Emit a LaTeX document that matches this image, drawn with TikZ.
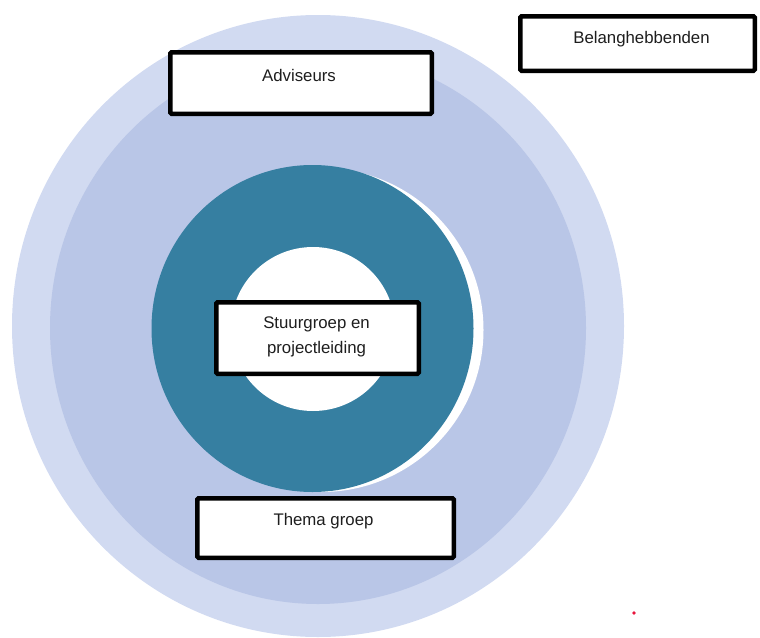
\documentclass[tikz,border=0pt]{standalone}
\usepackage{fontspec}
\setmainfont{Liberation Sans}
\definecolor{outerc}{RGB}{209,218,241}
\definecolor{midc}{RGB}{185,198,231}
\definecolor{darkc}{RGB}{54,127,161}
\definecolor{txtc}{RGB}{30,30,30}
\definecolor{dotc}{RGB}{232,20,60}
\begin{document}
\begin{tikzpicture}[x=1pt,y=-1pt,
  boxst/.style={draw=black,fill=white,line width=4.5pt,rounded corners=1.2pt,inner sep=0pt},
  lbl/.style={text=txtc,font=\fontsize{16.8}{25}\selectfont,align=center,inner sep=0pt}]
\useasboundingbox (0,0) rectangle (760,637);
% rings
\fill[outerc] (318,326) ellipse [x radius=306, y radius=311];
\fill[midc] (318,328) ellipse [x radius=268, y radius=276];
\fill[white] (321.5,330) circle [radius=162];
\fill[darkc] (312.5,328.5) ellipse [x radius=161, y radius=163.5];
\fill[white] (313,329) circle [radius=82];
% boxes
\node[boxst,minimum width=261.5pt,minimum height=61.5pt] (adv) at (301,83) {};
\node[lbl] (advt) at ([yshift=8pt,xshift=-2pt]adv.center) {Adviseurs};
\node[boxst,minimum width=234.5pt,minimum height=54.5pt] (bel) at (637.5,43.5) {};
\node[lbl] (belt) at ([yshift=4pt,xshift=4pt]bel.center) {Belanghebbenden};
\node[boxst,minimum width=202.5pt,minimum height=71.5pt] (stu) at (317.5,338) {};
\node[lbl] (stut) at ([yshift=1pt,xshift=-1pt]stu.center) {Stuurgroep en\\projectleiding};
\node[boxst,minimum width=256.5pt,minimum height=59.5pt] (the) at (325.5,528) {};
\node[lbl] (thet) at ([yshift=7pt,xshift=-2pt]the.center) {Thema groep};
% dot
\fill[dotc] (634,613) circle [radius=1.8];
\end{tikzpicture}
\end{document}
